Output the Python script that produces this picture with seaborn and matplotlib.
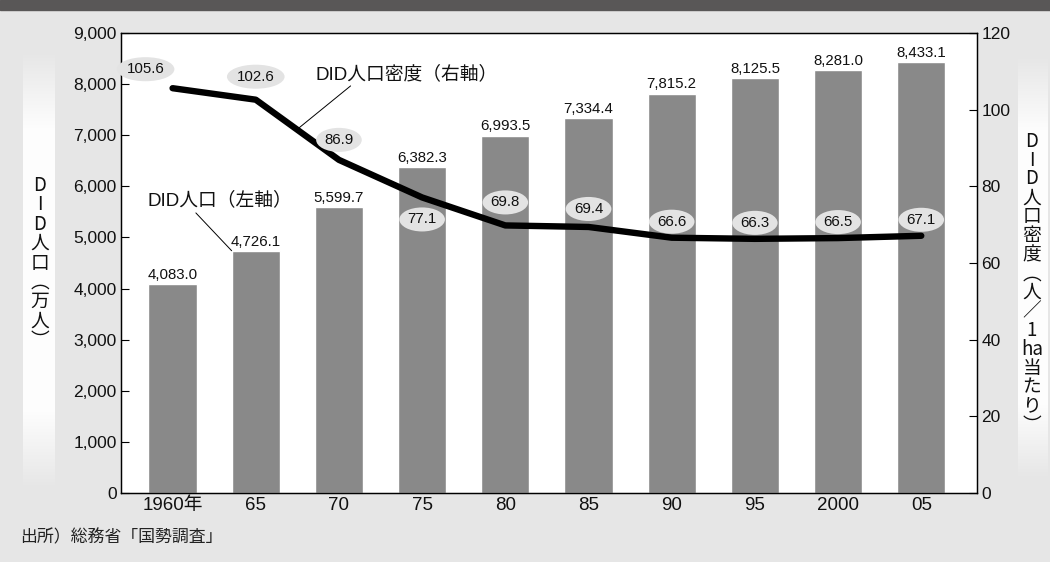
import numpy as np
import pandas as pd
import matplotlib
matplotlib.use("Agg")
import matplotlib.pyplot as plt
import seaborn as sns

# ---- data ----
years = ["1960年", "65", "70", "75", "80", "85", "90", "95", "2000", "05"]
population = [4083.0, 4726.1, 5599.7, 6382.3, 6993.5, 7334.4, 7815.2, 8125.5, 8281.0, 8433.1]
density = [105.6, 102.6, 86.9, 77.1, 69.8, 69.4, 66.6, 66.3, 66.5, 67.1]
left_ticks = [0, 1000, 2000, 3000, 4000, 5000, 6000, 7000, 8000, 9000]
right_ticks = [0, 20, 40, 60, 80, 100, 120]
left_label = "DID人口︵万人︶"
right_label_lines = ["D", "I", "D", "人", "口", "密", "度", "︵", "人", "／", "1", "ha", "当", "た", "り", "︶"]
source_text = "出所）総務省「国勢調査」"
line_label = "DID人口密度（右軸）"
bar_label = "DID人口（左軸）"

# label offsets (pixels) for density labels
dens_offsets = [(-27, 19), (0, 23), (0, 20), (0, -22), (0, 23), (0, 18), (0, 16), (0, 16), (0, 16), (0, 16)]

sns.set_theme(style="white")
plt.rcParams["font.family"] = ["Liberation Sans", "Noto Sans CJK JP", "DejaVu Sans"]
CJK = ["Noto Sans CJK JP", "DejaVu Sans"]

BG = "#e6e6e6"
W, H = 1050, 562
fig = plt.figure(figsize=(W / 100, H / 100), dpi=100, facecolor=BG)

# top dark band
fig.patches.append(plt.Rectangle((0, 1 - 10 / H), 1, 10 / H, transform=fig.transFigure,
                                 color="#595757", zorder=0))

# gradient strips behind the axis titles
def strip(x0, x1, y0, y1):
    a = fig.add_axes([x0 / W, 1 - y1 / H, (x1 - x0) / W, (y1 - y0) / H], zorder=0)
    n = 200
    t = np.linspace(0, 1, n)
    alpha = np.clip(np.minimum(t / 0.18, (1 - t) / 0.18), 0, 1)
    img = np.ones((n, 1, 4))
    img[:, 0, 3] = alpha * 0.95
    a.imshow(img, aspect="auto", extent=(0, 1, 0, 1))
    a.set_axis_off()

strip(23, 54, 50, 490)
strip(1018, 1048, 55, 480)

ax = fig.add_axes([121 / W, 1 - 493 / H, (977 - 121) / W, (493 - 33) / H], zorder=2)
ax.set_facecolor("white")

df = pd.DataFrame({"year": years, "pop": population})
sns.barplot(data=df, x="year", y="pop", color="#898989", width=0.58, saturation=1,
            ax=ax, zorder=2)
ax.set_xlim(-0.62, 9.67)
ax.set_ylim(0, 9000)
ax.set_yticks(left_ticks)
ax.set_yticklabels([f"{v:,}" for v in left_ticks])
ax.set_xlabel("")
ax.set_ylabel("")
ax.tick_params(axis="y", direction="in", length=6, width=0.8, color="black",
               labelsize=12.5, pad=3, left=True, labelcolor="#111111")
ax.tick_params(axis="x", length=0, labelsize=13.5, pad=3, labelcolor="#111111")
for s in ax.spines.values():
    s.set_color("black")
    s.set_linewidth(0.9)

for i, v in enumerate(population):
    ax.annotate(f"{v:,.1f}", (i, v), xytext=(0, 1.5), textcoords="offset points",
                ha="center", va="bottom", fontsize=10.8, color="#111111")

ax2 = ax.twinx()
sns.lineplot(x=np.arange(len(density)), y=density, ax=ax2, color="black", linewidth=4.6,
             solid_capstyle="round", solid_joinstyle="round", zorder=3)
ax2.set_ylim(0, 120)
ax2.set_xlim(-0.62, 9.67)
ax2.set_yticks(right_ticks)
ax2.tick_params(axis="y", direction="in", length=6, width=0.8, color="black",
                labelsize=12.5, pad=3, right=True, labelcolor="#111111")
ax2.set_ylabel("")
for s in ax2.spines.values():
    s.set_color("black")
    s.set_linewidth(0.9)

for i, (v, off) in enumerate(zip(density, dens_offsets)):
    ax2.annotate(f"{v:.1f}", (i, v), xytext=(off[0] * 0.72, off[1] * 0.72),
                 textcoords="offset points", ha="center", va="center", fontsize=10.8,
                 color="#111111",
                 bbox=dict(boxstyle="ellipse,pad=0.1", fc="#e3e3e3", ec="none"), zorder=5)

# series callouts
ax2.text(1.72, 109.2, line_label, ha="left", va="center", fontsize=13.5, color="#111111")
ax2.plot([2.14, 1.5], [106.2, 94.9], color="black", lw=0.7)
ax.text(-0.30, 5730, bar_label, ha="left", va="center", fontsize=13.5, color="#111111")
ax.plot([0.28, 0.71], [5480, 4740], color="black", lw=0.7)

# vertical axis titles
fig.text(40 / W, 1 - 263 / H, "\n".join(list(left_label)), ha="center", va="center",
         fontsize=13.5, linespacing=0.9, color="#111111", family=CJK)
fig.text(1032 / W, 1 - 283 / H, "\n".join(right_label_lines), ha="center", va="center",
         fontsize=13.5, linespacing=0.87, color="#111111", family=CJK)

fig.text(20 / W, 1 - 537 / H, source_text, ha="left", va="center", fontsize=12.2,
         color="#222222")

fig.savefig("out.png", dpi=100, facecolor=BG)
